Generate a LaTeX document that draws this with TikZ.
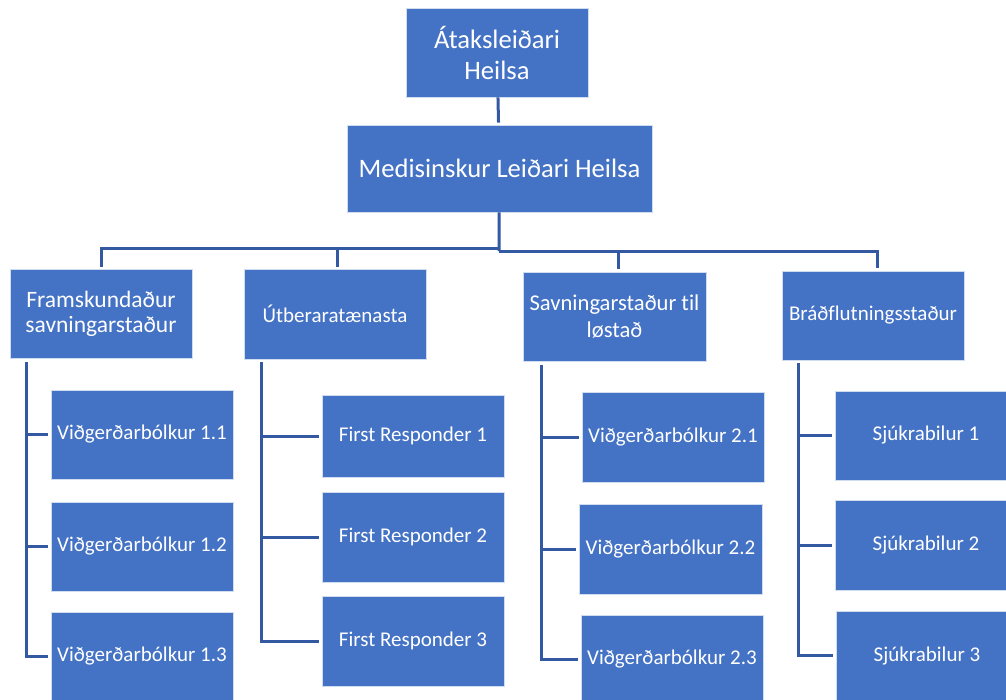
\documentclass[tikz,border=0pt]{standalone}
\usepackage{fontspec}
\setmainfont[Ligatures=NoCommon]{Carlito}
\definecolor{boxblue}{HTML}{4472C4}
\definecolor{linkblue}{HTML}{3359A3}
\tikzset{
  unit/.style={fill=boxblue,draw=white!75!boxblue,line width=.8pt,text=white,align=center,
    inner sep=0pt,minimum width=182pt,minimum height=89pt,font=\fontsize{21}{25}\selectfont},
  link/.style={draw=linkblue,line width=3pt}
}
\begin{document}
\begin{tikzpicture}[x=1pt,y=-1pt]
\useasboundingbox[fill=white] (0,0) rectangle (1006,699);
% top of the chart
\node[unit,font=\fontsize{26.6}{31}\selectfont] (lead) at (497,52.5) {Átaksleiðari\\Heilsa};
\node[unit,minimum width=305pt,minimum height=87pt,font=\fontsize{26.6}{31}\selectfont] (med) at (499.5,168.5) {Medisinskur Leiðari Heilsa};
% second row
\node[unit,font=\fontsize{23.5}{25}\selectfont] (frm) at (101,313.5) {Framskundaður\\savningarstaður};
\node[unit,minimum height=90pt] (utb) at (335,314) {Útberaratænasta};
\node[unit,minimum width=183pt,font=\fontsize{22.6}{27}\selectfont] (sav) at (614.5,316.5) {Savningarstaður til\\løstað};
\node[unit] (brad) at (873,315.5) {Bráðflutningsstaður};
% third row
\node[unit] (v11) at (142,434.5) {Viðgerðarbólkur 1.1};
\node[unit] (v12) at (142,546.5) {Viðgerðarbólkur 1.2};
\node[unit] (v13) at (142,656.5) {Viðgerðarbólkur 1.3};
\node[unit,minimum height=82pt] (fr1) at (413,436) {First Responder 1};
\node[unit,minimum height=90pt] (fr2) at (413,537) {First Responder 2};
\node[unit,minimum height=90pt] (fr3) at (413,641) {First Responder 3};
\node[unit,minimum height=90pt] (v21) at (673,437) {Viðgerðarbólkur 2.1};
\node[unit,minimum width=183pt,minimum height=90pt] (v22) at (670.5,549) {Viðgerðarbólkur 2.2};
\node[unit] (v23) at (672,659.5) {Viðgerðarbólkur 2.3};
\node[unit] (sj1) at (926,435.5) {Sjúkrabilur 1};
\node[unit,minimum height=90pt] (sj2) at (926,545) {Sjúkrabilur 2};
\node[unit] (sj3) at (927,655.5) {Sjúkrabilur 3};
% connectors
\draw[link,shorten >=2pt] (lead) -- (med);
\coordinate (busL) at (499,248);
\coordinate (busR) at (499,251);
\draw[link] (med) -- (busR);
\draw[link] (busL) -| ([yshift=2pt]frm.north);
\draw[link] (busL) -| ([xshift=2pt,yshift=2pt]utb.north);
\draw[link] (busR) -| ([xshift=3.5pt,yshift=3pt]sav.north);
\draw[link] (busR) -| ([xshift=4pt,yshift=3pt]brad.north);
\coordinate (frmstem) at (26,362);
\draw[link,shorten >=3pt] (frmstem) |- (v11.west);
\draw[link,shorten >=3pt] (frmstem) |- (v12.west);
\draw[link,shorten >=3pt] (frmstem) |- (v13.west);
\coordinate (utbstem) at (261,362);
\draw[link,shorten >=3pt] (utbstem) |- (fr1.west);
\draw[link,shorten >=3pt] (utbstem) |- (fr2.west);
\draw[link,shorten >=3pt] (utbstem) |- (fr3.west);
\coordinate (savstem) at (541,365);
\draw[link,shorten >=3pt] (savstem) |- (v21.west);
\draw[link,shorten >=3pt] (savstem) |- (v22.west);
\draw[link,shorten >=3pt] (savstem) |- (v23.west);
\coordinate (bradstem) at (798,363);
\draw[link,shorten >=3pt] (bradstem) |- (sj1.west);
\draw[link,shorten >=3pt] (bradstem) |- (sj2.west);
\draw[link,shorten >=3pt] (bradstem) |- (sj3.west);
\end{tikzpicture}
\end{document}
